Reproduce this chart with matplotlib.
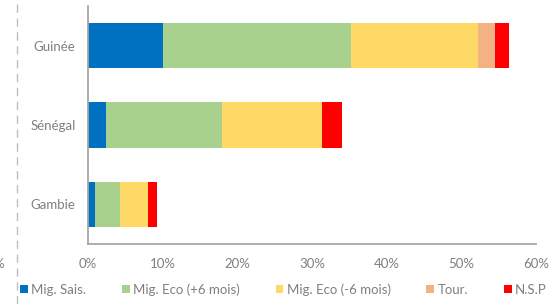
import matplotlib.pyplot as plt
from matplotlib.lines import Line2D

plt.rcParams['font.family'] = ['Lato', 'DejaVu Sans']

pays = ['Gambie', 'Sénégal', 'Guinée']
mig_sais = [1.0, 2.4, 10.0]
mig_eco_plus = [3.3, 15.5, 25.2]
mig_eco_moins = [3.8, 13.4, 17.0]
tour = [0.0, 0.0, 2.3]
nsp = [1.2, 2.7, 1.9]

series = [
    ('Mig. Sais.', mig_sais, '#0070C0'),
    ('Mig. Eco (+6 mois)', mig_eco_plus, '#A9D18E'),
    ('Mig. Eco (-6 mois)', mig_eco_moins, '#FFD966'),
    ('Tour.', tour, '#F4B183'),
    ('N.S.P', nsp, '#FF0000'),
]
ticks = [0, 10, 20, 30, 40, 50, 60]
txt = '#7F7F7F'
fs = 9.5

fig = plt.figure(figsize=(5.5, 3.04), dpi=100)
ax = fig.add_axes([0.16, 0.197, 0.8145, 0.783])

left = [0.0] * len(pays)
for nom, vals, col in series:
    ax.barh(pays, vals, left=left, height=0.57, color=col, label=nom)
    left = [a + b for a, b in zip(left, vals)]

ax.set_xlim(0, 60)
ax.set_ylim(-0.5, 2.5)
ax.set_xticks(ticks)
ax.set_xticklabels([str(t) + '%' for t in ticks])
ax.tick_params(length=0, labelsize=fs, colors=txt)
ax.tick_params(axis='x', pad=10)
ax.tick_params(axis='y', pad=9)
for s in ['top', 'right']:
    ax.spines[s].set_visible(False)
for s in ['left', 'bottom']:
    ax.spines[s].set_color('#A6A6A6')
    ax.spines[s].set_linewidth(1.3)

# dashed border line on the left, and a cut-off label from the neighbouring chart
fig.add_artist(Line2D([17 / 550, 17 / 550], [0, 1], transform=fig.transFigure,
                      color='#BFBFBF', lw=1, ls=(0, (6, 4))))
fig.text(4 / 550, 1 - 264 / 304, '%', ha='right', va='center', fontsize=fs, color=txt)

leg = fig.legend(loc='lower left', bbox_to_anchor=(0.015, -0.012), ncol=5,
                 frameon=False, fontsize=fs, handlelength=0.6, handleheight=0.6,
                 handletextpad=0.25, columnspacing=2.7, labelcolor=txt)

fig.savefig('out.png', dpi=100)
